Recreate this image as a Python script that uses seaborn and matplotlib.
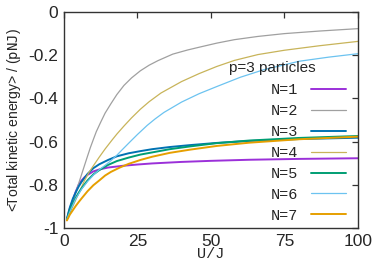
import warnings
warnings.filterwarnings('ignore')

import numpy as np
import pandas as pd
import seaborn as sns
import matplotlib
matplotlib.use('Agg')
import matplotlib.pyplot as plt

# values (U/J, energy)
u_n1 = [1, 1.5, 2, 3, 4, 5, 6, 7, 8, 10, 12, 15, 20, 25, 30, 40, 50, 63, 80, 100]
e_n1 = [-0.96, -0.935, -0.91, -0.872, -0.832, -0.8, -0.78, -0.765, -0.754, -0.738, -0.729, -0.72,
        -0.712, -0.706, -0.701, -0.694, -0.689, -0.684, -0.68, -0.677]

u_n2 = [1, 2, 3, 4, 5, 6, 7, 8, 9, 10, 11, 12.5, 14, 16, 18, 20.4, 23, 26, 29, 32, 37, 42, 46,
        52, 58, 66, 75, 87, 100]
e_n2 = [-0.96, -0.92, -0.878, -0.836, -0.794, -0.752, -0.71, -0.668, -0.627, -0.59, -0.554,
        -0.51, -0.468, -0.424, -0.382, -0.34, -0.305, -0.272, -0.246, -0.225, -0.195, -0.176,
        -0.163, -0.144, -0.128, -0.113, -0.1, -0.088, -0.077]

u_n3 = [1, 1.5, 2, 3, 4, 5, 6, 8, 10, 12, 15, 18, 22, 26, 30, 36, 43, 52, 63, 80, 100]
e_n3 = [-0.96, -0.93, -0.905, -0.865, -0.835, -0.808, -0.786, -0.75, -0.723, -0.705, -0.685,
        -0.668, -0.654, -0.644, -0.635, -0.625, -0.616, -0.606, -0.597, -0.588, -0.582]

u_n4 = [1, 2, 3, 4, 5, 6, 7, 8.4, 10, 12, 14, 16.4, 18, 20.4, 23, 26, 29, 33, 40, 46, 52, 58,
        66, 75, 87, 100]
e_n4 = [-0.96, -0.93, -0.9, -0.87, -0.84, -0.81, -0.78, -0.745, -0.712, -0.672, -0.634,
        -0.592, -0.565, -0.528, -0.49, -0.45, -0.415, -0.375, -0.322, -0.285, -0.252, -0.224,
        -0.197, -0.177, -0.156, -0.136]

u_n5 = [1, 1.5, 2, 3, 4, 5, 6, 8, 10, 12, 15, 18, 22, 26, 30, 36, 43, 52, 63, 80, 100]
e_n5 = [-0.96, -0.94, -0.92, -0.888, -0.86, -0.837, -0.816, -0.78, -0.752, -0.732, -0.708,
        -0.69, -0.674, -0.66, -0.65, -0.635, -0.622, -0.607, -0.595, -0.583, -0.574]

u_n6 = [1, 2, 4, 6, 8, 10, 12, 14, 16, 18, 20, 22.7, 25, 28.3, 31, 34, 40, 46, 52, 60, 68, 80,
        90, 100]
e_n6 = [-0.96, -0.925, -0.865, -0.82, -0.785, -0.755, -0.73, -0.71, -0.688, -0.663, -0.635,
        -0.598, -0.567, -0.525, -0.495, -0.465, -0.417, -0.378, -0.345, -0.302, -0.267, -0.228,
        -0.209, -0.193]

u_n7 = [1, 1.5, 2, 3, 4, 5, 6, 8, 10, 12, 14, 16, 19, 22, 26, 30, 36, 43, 52, 63, 80, 100]
e_n7 = [-0.965, -0.952, -0.938, -0.918, -0.898, -0.88, -0.863, -0.83, -0.802, -0.78, -0.757,
        -0.74, -0.72, -0.703, -0.685, -0.67, -0.652, -0.637, -0.62, -0.605, -0.589, -0.577]

labels = ['N=1', 'N=2', 'N=3', 'N=4', 'N=5', 'N=6', 'N=7']
colors = ['#9b30d9', '#a0a0a0', '#0072b2', '#c8b45a', '#009e73', '#6cc3f0', '#e69f00']
widths = [1.4, 0.9, 1.4, 0.9, 1.4, 0.9, 1.4]

xticks = [0, 25, 50, 75, 100]
yticks = [-1, -0.8, -0.6, -0.4, -0.2, 0]
yticklabels = ['-1', '-0.8', '-0.6', '-0.4', '-0.2', '0']

series = [(u_n1, e_n1), (u_n2, e_n2), (u_n3, e_n3), (u_n4, e_n4),
          (u_n5, e_n5), (u_n6, e_n6), (u_n7, e_n7)]
df = pd.concat([pd.DataFrame({'U': u, 'E': e, 'N': lab})
                for (u, e), lab in zip(series, labels)])

sns.set_style('white')
plt.rcParams['font.family'] = ['Liberation Sans', 'DejaVu Sans']

fig = plt.figure(figsize=(3.74, 2.67), dpi=100)
ax = fig.add_axes([0.171, 0.146, 0.786, 0.809])

for lab, c, w in zip(labels, colors, widths):
    d = df[df['N'] == lab]
    sns.lineplot(data=d, x='U', y='E', color=c, lw=w, label=lab, ax=ax,
                 sort=False, estimator=None)

ax.set_xlim(0, 100)
ax.set_ylim(-1, 0)
ax.set_xticks(xticks)
ax.set_yticks(yticks)
ax.set_yticklabels(yticklabels)
ax.tick_params(direction='in', length=4, width=0.9, labelsize=12.5,
               top=True, right=True, pad=4, color='#333333')
for s in ax.spines.values():
    s.set_linewidth(1.0)
    s.set_color('#333333')

ax.set_xlabel('U/J', family='Liberation Mono', fontsize=11, labelpad=-1)
ax.set_ylabel(r'<Total kinetic energy> / ($\mathtt{pNJ}$)', fontsize=10.1, labelpad=4)

ax.text(0.56, 0.722, 'p=3 particles', transform=ax.transAxes, fontsize=11,
        va='baseline')
handles, labs = ax.get_legend_handles_labels()
leg = ax.legend(handles, labs, loc='upper right', bbox_to_anchor=(0.98, 0.698),
                frameon=False, markerfirst=False, handlelength=2.3,
                labelspacing=0.45, prop={'family': 'Liberation Mono', 'size': 11},
                handletextpad=0.8, borderaxespad=0)

fig.savefig('out.png', dpi=100)
